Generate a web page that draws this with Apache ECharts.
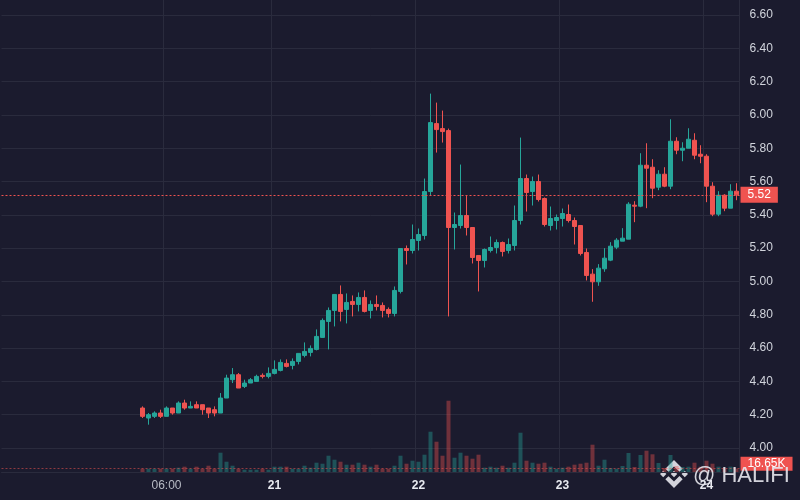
<!DOCTYPE html>
<html>
<head>
<meta charset="utf-8">
<script src="https://cdn.jsdelivr.net/npm/echarts@6/dist/echarts.min.js"></script>
<style>
html, body { margin: 0; padding: 0; background: #1b1b2e; }
#chart { width: 800px; height: 500px; }
</style>
</head>
<body>
<div id="chart"></div>
<script>
// hourly candles, 20th 02:00 -> 24th 05:00
const hours = [
    '20 02:00', '20 03:00', '20 04:00', '20 05:00', '20 06:00', '20 07:00', '20 08:00', '20 09:00', '20 10:00', '20 11:00', '20 12:00',
    '20 13:00', '20 14:00', '20 15:00', '20 16:00', '20 17:00', '20 18:00', '20 19:00', '20 20:00', '20 21:00', '20 22:00', '20 23:00',
    '21 00:00', '21 01:00', '21 02:00', '21 03:00', '21 04:00', '21 05:00', '21 06:00', '21 07:00', '21 08:00', '21 09:00', '21 10:00', '21 11:00',
    '21 12:00', '21 13:00', '21 14:00', '21 15:00', '21 16:00', '21 17:00', '21 18:00', '21 19:00', '21 20:00', '21 21:00', '21 22:00', '21 23:00',
    '22 00:00', '22 01:00', '22 02:00', '22 03:00', '22 04:00', '22 05:00', '22 06:00', '22 07:00', '22 08:00', '22 09:00', '22 10:00', '22 11:00',
    '22 12:00', '22 13:00', '22 14:00', '22 15:00', '22 16:00', '22 17:00', '22 18:00', '22 19:00', '22 20:00', '22 21:00', '22 22:00', '22 23:00',
    '23 00:00', '23 01:00', '23 02:00', '23 03:00', '23 04:00', '23 05:00', '23 06:00', '23 07:00', '23 08:00', '23 09:00', '23 10:00', '23 11:00',
    '23 12:00', '23 13:00', '23 14:00', '23 15:00', '23 16:00', '23 17:00', '23 18:00', '23 19:00', '23 20:00', '23 21:00', '23 22:00', '23 23:00',
    '24 00:00', '24 01:00', '24 02:00', '24 03:00', '24 04:00', '24 05:00'
];

const openP = [
    4.24, 4.18, 4.19, 4.21, 4.19, 4.24, 4.21, 4.27, 4.24, 4.26,
    4.26, 4.24, 4.23, 4.21, 4.30, 4.41, 4.44, 4.37, 4.39, 4.40,
    4.436, 4.43, 4.448, 4.466, 4.508, 4.496, 4.52, 4.556, 4.574, 4.592,
    4.664, 4.76, 4.826, 4.922, 4.832, 4.88, 4.862, 4.904, 4.826, 4.862,
    4.856, 4.832, 4.808, 4.94, 5.198, 5.186, 5.246, 5.276, 5.54, 5.948,
    5.918, 5.906, 5.324, 5.336, 5.396, 5.324, 5.156, 5.126, 5.186, 5.204,
    5.234, 5.186, 5.216, 5.366, 5.618, 5.54, 5.60, 5.498, 5.336, 5.366,
    5.378, 5.402, 5.366, 5.336, 5.174, 5.044, 4.998, 5.076, 5.128, 5.206,
    5.242, 5.254, 5.458, 5.452, 5.698, 5.686, 5.566, 5.644, 5.572, 5.842,
    5.788, 5.80, 5.848, 5.764, 5.752, 5.572, 5.404, 5.518, 5.44, 5.542
];
const closeP = [
    4.19, 4.20, 4.21, 4.19, 4.24, 4.21, 4.27, 4.24, 4.25, 4.24,
    4.23, 4.21, 4.21, 4.30, 4.42, 4.44, 4.36, 4.39, 4.41, 4.43,
    4.43, 4.448, 4.472, 4.514, 4.49, 4.52, 4.568, 4.58, 4.598, 4.67,
    4.766, 4.826, 4.922, 4.82, 4.874, 4.862, 4.904, 4.82, 4.862, 4.85,
    4.826, 4.808, 4.946, 5.198, 5.186, 5.252, 5.282, 5.54, 5.954, 5.912,
    5.90, 5.324, 5.342, 5.396, 5.324, 5.144, 5.126, 5.192, 5.204, 5.234,
    5.18, 5.222, 5.366, 5.618, 5.534, 5.60, 5.492, 5.342, 5.378, 5.384,
    5.408, 5.366, 5.33, 5.168, 5.036, 4.998, 5.08, 5.14, 5.212, 5.248,
    5.26, 5.464, 5.452, 5.698, 5.68, 5.56, 5.644, 5.572, 5.842, 5.788,
    5.80, 5.854, 5.758, 5.752, 5.572, 5.404, 5.518, 5.44, 5.542, 5.52
];
const lowP = [
    4.18, 4.14, 4.18, 4.18, 4.19, 4.20, 4.21, 4.23, 4.24, 4.24,
    4.20, 4.18, 4.19, 4.21, 4.30, 4.39, 4.36, 4.36, 4.39, 4.40,
    4.418, 4.418, 4.442, 4.46, 4.484, 4.472, 4.502, 4.544, 4.55, 4.586,
    4.664, 4.592, 4.73, 4.76, 4.748, 4.79, 4.82, 4.814, 4.778, 4.826,
    4.784, 4.784, 4.79, 4.928, 5.102, 5.168, 5.186, 5.252, 5.516, 5.774,
    5.834, 4.79, 5.192, 5.318, 5.276, 5.108, 4.94, 5.084, 5.174, 5.168,
    5.15, 5.168, 5.186, 5.342, 5.42, 5.456, 5.48, 5.33, 5.306, 5.312,
    5.33, 5.354, 5.222, 5.156, 5.006, 4.878, 4.974, 5.058, 5.122, 5.194,
    5.242, 5.254, 5.356, 5.446, 5.44, 5.50, 5.548, 5.566, 5.554, 5.764,
    5.722, 5.80, 5.734, 5.71, 5.476, 5.392, 5.392, 5.422, 5.44, 5.488
];
const highP = [
    4.25, 4.21, 4.22, 4.23, 4.25, 4.24, 4.28, 4.29, 4.28, 4.28,
    4.26, 4.24, 4.25, 4.33, 4.44, 4.48, 4.45, 4.41, 4.42, 4.44,
    4.448, 4.484, 4.526, 4.532, 4.532, 4.538, 4.568, 4.634, 4.616, 4.712,
    4.778, 4.844, 4.922, 4.976, 4.928, 4.916, 4.934, 4.946, 4.886, 4.916,
    4.874, 4.844, 4.97, 5.198, 5.216, 5.342, 5.318, 5.618, 6.128, 6.074,
    6.026, 5.918, 5.414, 5.702, 5.516, 5.324, 5.156, 5.198, 5.27, 5.252,
    5.24, 5.258, 5.456, 5.864, 5.642, 5.63, 5.642, 5.504, 5.45, 5.402,
    5.438, 5.462, 5.384, 5.336, 5.198, 5.074, 5.104, 5.20, 5.236, 5.26,
    5.32, 5.476, 5.482, 5.77, 5.83, 5.734, 5.668, 5.686, 5.974, 5.866,
    5.836, 5.92, 5.89, 5.818, 5.764, 5.596, 5.542, 5.524, 5.584, 5.59
];
// volume in K
const volume = [
    16.7, 16.7, 16.7, 16.7, 16.7, 16.7, 21.7, 26.8, 16.7, 26.8,
    16.7, 31.8, 16.7, 97.5, 52.0, 31.8, 16.7, 11.6, 11.6, 11.6,
    16.7, 11.6, 26.8, 26.8, 26.8, 16.7, 16.7, 31.8, 21.7, 47.0,
    41.9, 82.3, 62.1, 52.0, 36.9, 36.9, 47.0, 36.9, 26.8, 36.9,
    16.7, 16.7, 31.8, 82.3, 41.9, 57.1, 52.0, 87.4, 203.5, 153.0,
    82.3, 360.1, 72.2, 97.5, 82.3, 67.2, 87.4, 21.7, 26.8, 21.7,
    31.8, 21.7, 47.0, 198.5, 57.1, 47.0, 41.9, 47.0, 26.8, 16.7,
    21.7, 26.8, 36.9, 41.9, 47.0, 137.9, 31.8, 62.1, 20.2, 16.7,
    30.3, 96.0, 25.3, 86.0, 107.6, 89.4, 45.5, 20.2, 86.0, 30.3,
    25.3, 26.8, 47.0, 26.8, 57.1, 41.9, 26.8, 16.7, 26.8, 16.65
];

const tickAt = ['20 06:00', '21 00:00', '22 00:00', '23 00:00', '24 00:00'];
const tickText = ['06:00', '21', '22', '23', '24'];

const gridCol = '#2a2b3d';
const upCol = '#26a69a';
const downCol = '#ef5350';
const textCol = '#d1d4dc';

// empty slots on the left, like the scrolled-in view of the original
const pad = 23;
const xCats = [];
const candles = [];
const vols = [];
for (let i = 0; i < pad; i++) {
    xCats.push('pad' + i);
    candles.push(['-', '-', '-', '-']);
    vols.push('-');
}
hours.forEach((h, i) => {
    xCats.push(h);
    candles.push([openP[i], closeP[i], lowP[i], highP[i]]);
    vols.push({
        value: volume[i],
        itemStyle: {color: closeP[i] >= openP[i] ? 'rgba(38,166,154,0.4)' : 'rgba(239,83,80,0.4)'}
    });
});
const lastClose = closeP[closeP.length - 1];
const lastVol = volume[volume.length - 1];

// Binance mark, in 126-unit coordinates
const logoParts = [
    [[38.17, 53.2], [62.76, 28.62], [87.36, 53.22], [101.67, 38.91], [62.76, 0], [23.86, 38.9]],
    [[0, 62.76], [14.31, 48.45], [28.61, 62.76], [14.31, 77.07]],
    [[38.17, 72.32], [62.76, 96.9], [87.36, 72.3], [101.67, 86.6], [62.76, 125.52], [23.86, 86.62]],
    [[96.77, 62.76], [111.08, 48.45], [125.39, 62.76], [111.08, 77.07]],
    [[77.27, 62.75], [62.76, 48.23], [48.24, 62.76], [62.76, 77.26]]
];
const logoScale = 0.223;

const chart = echarts.init(document.getElementById('chart'));
chart.setOption({
    backgroundColor: '#1b1b2e',
    animation: false,
    textStyle: {fontFamily: 'Liberation Sans, Arial, sans-serif'},
    grid: [
        {left: 1.5, right: 60.5, top: -18.3, height: 499.6, outerBoundsMode: 'none', containLabel: false},
        {left: 1.5, right: 60.5, top: 0, height: 472, outerBoundsMode: 'none', containLabel: false}
    ],
    xAxis: [
        {gridIndex: 0, type: 'category', data: xCats, show: false},
        {
            gridIndex: 1,
            type: 'category',
            data: xCats,
            axisLine: {lineStyle: {color: gridCol}},
            axisTick: {show: false},
            axisLabel: {
                interval: (idx, val) => tickAt.includes(val),
                margin: 8,
                fontSize: 12,
                formatter: (val) => {
                    const t = tickText[tickAt.indexOf(val)];
                    return t.indexOf(':') > 0 ? '{t|' + t + '}' : '{d|' + t + '}';
                },
                rich: {
                    t: {color: '#b8bbc4', fontSize: 12},
                    d: {color: '#e8eaf0', fontSize: 12, fontWeight: 'bold'}
                }
            },
            splitLine: {
                show: true,
                interval: (idx, val) => tickAt.includes(val),
                lineStyle: {color: gridCol, width: 1}
            }
        }
    ],
    yAxis: [
        {
            gridIndex: 0,
            type: 'value',
            position: 'right',
            min: 3.8,
            max: 6.8,
            interval: 0.2,
            axisLine: {show: false},
            axisTick: {show: false},
            axisLabel: {
                color: textCol,
                fontSize: 12,
                margin: 10,
                formatter: (v) => v < 3.9 ? '' : v.toFixed(2)
            },
            splitLine: {show: true, showMinLine: false, showMaxLine: false, lineStyle: {color: gridCol}}
        },
        {
            gridIndex: 1,
            type: 'value',
            position: 'right',
            min: 0,
            max: 2384,
            axisLine: {show: true, lineStyle: {color: gridCol}},
            axisTick: {show: false},
            axisLabel: {show: false},
            splitLine: {show: false}
        }
    ],
    series: [
        {
            type: 'bar',
            xAxisIndex: 1,
            yAxisIndex: 1,
            data: vols,
            barWidth: 4,
            markLine: {
                silent: true,
                symbol: ['none', 'none'],
                lineStyle: {color: 'rgba(239,83,80,0.55)', type: [2, 2], width: 1},
                label: {
                    position: 'end',
                    distance: 1,
                    offset: [0, -5],
                    formatter: lastVol.toFixed(2) + 'K',
                    color: '#ffffff',
                    backgroundColor: downCol,
                    padding: [1, 7, 1, 7],
                    fontSize: 12
                },
                data: [{yAxis: lastVol}]
            }
        },
        {
            type: 'candlestick',
            xAxisIndex: 0,
            yAxisIndex: 0,
            data: candles,
            barWidth: 4,
            itemStyle: {
                color: upCol,
                color0: downCol,
                borderColor: upCol,
                borderColor0: downCol,
                borderWidth: 1
            },
            markLine: {
                silent: true,
                symbol: ['none', 'none'],
                lineStyle: {color: downCol, type: [2, 2], width: 1},
                label: {
                    position: 'end',
                    distance: 1,
                    formatter: lastClose.toFixed(2),
                    color: '#ffffff',
                    backgroundColor: downCol,
                    padding: [2, 7, 2, 7],
                    fontSize: 12
                },
                data: [{yAxis: lastClose}]
            }
        }
    ],
    graphic: [
        {
            type: 'group',
            left: 660,
            top: 460,
            z: 100,
            children: logoParts.map((pts) => ({
                type: 'polygon',
                shape: {points: pts.map((p) => [p[0] * logoScale, p[1] * logoScale])},
                style: {fill: 'rgba(232,232,238,0.9)'}
            }))
        },
        {
            type: 'text',
            z: 100,
            x: 693,
            y: 476,
            style: {
                text: '@ HALIFI',
                font: '22px Liberation Sans, Arial, sans-serif',
                fill: 'rgba(232,232,238,0.9)',
                textAlign: 'left',
                textVerticalAlign: 'middle'
            }
        }
    ]
});
</script>
</body>
</html>
